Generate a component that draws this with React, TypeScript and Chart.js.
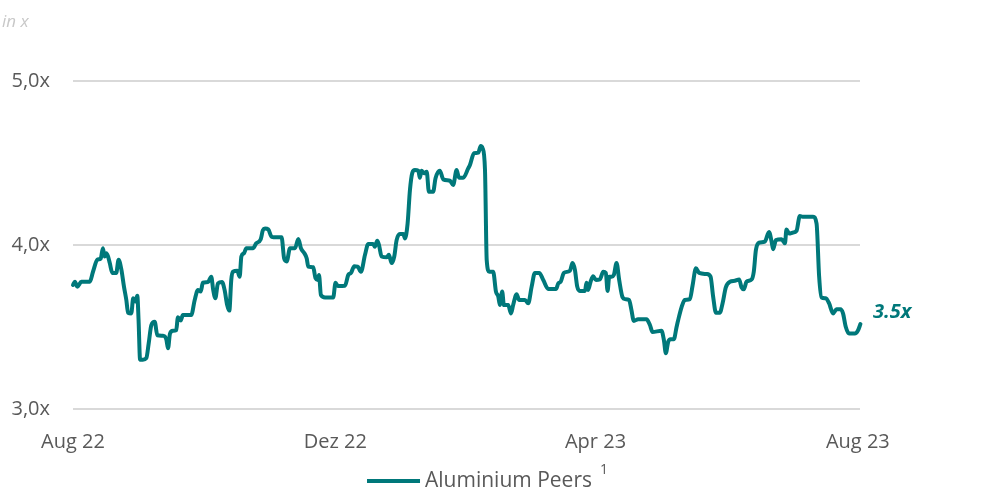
import React, { useEffect, useRef } from 'react';
import { Chart, registerables } from 'chart.js';

Chart.register(...registerables);

// Days since 1 Aug 2022
const dayOffsets = [
  0.0, 0.9, 2.0, 3.9, 7.8, 9.3, 11.3, 12.9, 13.9, 14.7, 15.5, 16.3, 17.1, 18.3, 20.1, 21.2, 22.5, 23.7, 24.8, 25.6,
  27.1, 28.0, 29.0, 29.9, 30.5, 31.2, 32.5, 34.1, 35.2, 36.4, 38.0, 39.2, 41.8, 43.4, 44.2, 45.1, 46.5, 48.0, 48.8, 50.1,
  51.1, 55.0, 56.6, 58.1, 59.4, 60.4, 62.8, 64.3, 65.2, 66.2, 67.4, 69.3, 70.5, 71.7, 72.7, 73.6, 74.4, 76.4, 77.5, 78.3,
  79.5, 80.6, 83.7, 85.2, 87.3, 88.3, 89.3, 90.8, 92.4, 94.7, 97.0, 98.2, 99.4, 100.9, 103.2, 104.8, 106.0, 107.6, 108.7, 109.4,
  111.7, 112.8, 113.8, 114.4, 115.3, 117.2, 121.0, 122.1, 123.1, 126.5, 128.0, 129.3, 130.8, 132.4, 133.9, 135.8, 137.3, 139.6, 140.4, 141.5,
  142.3, 143.5, 145.9, 146.9, 148.2, 149.4, 150.5, 152.0, 153.6, 154.4, 155.6, 156.7, 157.8, 159.0, 160.6, 161.3, 162.1, 163.3, 164.5, 165.5,
  167.5, 168.6, 170.6, 172.2, 175.3, 176.8, 178.4, 179.5, 181.5, 183.8, 184.6, 186.5, 188.5, 189.6, 190.5, 191.6, 192.4, 193.6, 195.4, 196.7,
  197.8, 198.5, 199.6, 200.4, 202.4, 203.7, 204.7, 206.3, 207.5, 210.2, 211.7, 213.3, 214.8, 216.8, 218.7, 221.0, 224.6, 225.7, 226.8, 228.3,
  231.1, 232.3, 233.4, 234.5, 235.7, 238.1, 238.8, 239.6, 240.7, 241.9, 243.2, 245.0, 246.6, 247.8, 248.6, 249.4, 250.5, 251.5, 252.8, 254.0,
  255.6, 256.7, 258.6, 259.7, 260.8, 262.8, 266.7, 268.3, 269.5, 273.7, 274.8, 275.7, 276.8, 277.9, 279.4, 280.7, 281.4, 283.0, 284.5, 286.9,
  288.1, 289.7, 291.2, 294.7, 296.5, 297.7, 299.0, 300.8, 302.1, 303.6, 305.5, 307.8, 309.8, 310.9, 312.0, 313.2, 315.6, 316.6, 317.6, 319.1,
  321.7, 323.7, 324.9, 325.6, 326.9, 329.5, 331.1, 331.8, 333.1, 334.6, 336.5, 338.0, 339.3, 344.2, 345.8, 347.0, 348.1, 350.1, 351.6, 353.5,
  355.1, 356.9, 358.1, 359.4, 360.9, 363.6, 365.1, 366.2,
];

// EV/EBITDA multiple (x)
const multiples = [
  3.756, 3.776, 3.746, 3.776, 3.776, 3.837, 3.91, 3.918, 3.98, 3.93, 3.95, 3.93, 3.89, 3.83, 3.83, 3.91, 3.85, 3.746, 3.665, 3.587,
  3.583, 3.675, 3.655, 3.69, 3.54, 3.30, 3.30, 3.31, 3.40, 3.51, 3.532, 3.45, 3.447, 3.425, 3.37, 3.46, 3.477, 3.48, 3.56, 3.54,
  3.573, 3.573, 3.665, 3.726, 3.716, 3.77, 3.774, 3.807, 3.726, 3.675, 3.766, 3.774, 3.726, 3.634, 3.60, 3.787, 3.837, 3.843, 3.807, 3.93,
  3.95, 3.98, 3.98, 4.01, 4.035, 4.09, 4.10, 4.095, 4.05, 4.047, 4.047, 3.918, 3.90, 3.98, 3.98, 4.037, 3.98, 3.95, 3.918, 3.868,
  3.864, 3.797, 3.787, 3.817, 3.695, 3.68, 3.68, 3.77, 3.75, 3.752, 3.817, 3.83, 3.87, 3.868, 3.837, 3.94, 4.006, 4.006, 3.99, 4.026,
  4.0, 3.93, 3.925, 3.94, 3.89, 3.93, 4.03, 4.067, 4.067, 4.04, 4.13, 4.335, 4.44, 4.457, 4.453, 4.41, 4.453, 4.437, 4.447, 4.325,
  4.325, 4.407, 4.453, 4.40, 4.392, 4.366, 4.457, 4.41, 4.41, 4.467, 4.488, 4.56, 4.563, 4.604, 4.59, 4.457, 3.908, 3.837, 3.837, 3.716,
  3.685, 3.634, 3.716, 3.634, 3.634, 3.583, 3.634, 3.70, 3.665, 3.665, 3.645, 3.746, 3.83, 3.83, 3.787, 3.732, 3.732, 3.766, 3.776, 3.83,
  3.843, 3.89, 3.85, 3.746, 3.72, 3.72, 3.77, 3.726, 3.776, 3.81, 3.787, 3.79, 3.837, 3.83, 3.72, 3.807, 3.807, 3.817, 3.89, 3.787,
  3.68, 3.67, 3.665, 3.604, 3.537, 3.547, 3.547, 3.512, 3.47, 3.477, 3.42, 3.34, 3.41, 3.425, 3.425, 3.50, 3.54, 3.62, 3.665, 3.67,
  3.75, 3.858, 3.83, 3.823, 3.807, 3.685, 3.587, 3.587, 3.645, 3.742, 3.776, 3.782, 3.79, 3.742, 3.73, 3.776, 3.79, 3.837, 3.97, 4.014,
  4.02, 4.08, 4.02, 3.974, 4.03, 4.035, 4.01, 4.095, 4.07, 4.075, 4.087, 4.177, 4.173, 4.173, 4.13, 3.807, 3.68, 3.675, 3.645, 3.583,
  3.608, 3.608, 3.583, 3.50, 3.46, 3.46, 3.48, 3.518,
];

const tickDays = [0, 122, 243, 365];
const tickLabels = ['Aug 22', 'Dez 22', 'Apr 23', 'Aug 23'];
const yTickValues = [3, 4, 5];
const seriesName = 'Aluminium Peers';
const footnoteMark = '1';
const unitLabel = 'in x';
const lastValueLabel = '3.5x';
const lastValue = 3.5;

const TEAL = '#00787a';
const FONT = '"Open Sans", sans-serif';

const overlayPlugin = {
  id: 'overlay',
  afterDraw(chart: any) {
    const { ctx, chartArea, scales } = chart;
    ctx.save();
    // unit label
    ctx.font = `italic 17px ${FONT}`;
    ctx.fillStyle = '#c8c8c8';
    ctx.textAlign = 'left';
    ctx.textBaseline = 'middle';
    ctx.fillText(unitLabel, 2, 22);

    // end label
    ctx.font = `italic bold 20px ${FONT}`;
    ctx.fillStyle = TEAL;
    ctx.fillText(lastValueLabel, chartArea.right + 13, scales.y.getPixelForValue(lastValue) - 15);

    // legend
    const cx = (chartArea.left + chartArea.right) / 2;
    const ly = 481;
    ctx.font = `21px ${FONT}`;
    const tw = ctx.measureText(seriesName).width;
    const lineW = 53;
    const gap = 5;
    const supGap = 8;
    ctx.font = `14px ${FONT}`;
    const sw = ctx.measureText(footnoteMark).width;
    const total = lineW + gap + tw + supGap + sw;
    const x0 = cx + 21 - total / 2;
    ctx.strokeStyle = TEAL;
    ctx.lineWidth = 4;
    ctx.beginPath();
    ctx.moveTo(x0, ly);
    ctx.lineTo(x0 + lineW, ly);
    ctx.stroke();
    ctx.font = `21px ${FONT}`;
    ctx.fillStyle = '#595959';
    ctx.textBaseline = 'middle';
    ctx.fillText(seriesName, x0 + lineW + gap, ly);
    ctx.font = `14px ${FONT}`;
    ctx.fillText(footnoteMark, x0 + lineW + gap + tw + supGap, ly - 11);
    ctx.restore();
  },
};

export default function App() {
  const canvasRef = useRef<HTMLCanvasElement | null>(null);

  useEffect(() => {
    if (!canvasRef.current) return;
    const chart = new Chart(canvasRef.current, {
      type: 'line',
      data: {
        datasets: [
          {
            label: seriesName,
            data: dayOffsets.map((d, i) => ({ x: d, y: multiples[i] })),
            borderColor: TEAL,
            backgroundColor: TEAL,
            borderWidth: 4,
            pointRadius: 0,
            cubicInterpolationMode: 'monotone',
            borderJoinStyle: 'round',
            borderCapStyle: 'round',
            clip: false as any,
          },
        ],
      },
      options: {
        animation: false,
        responsive: true,
        maintainAspectRatio: false,
        layout: { padding: { top: 81, right: 138, bottom: 0, left: 0 } },
        plugins: { legend: { display: false }, tooltip: { enabled: false } },
        scales: {
          x: {
            type: 'linear',
            min: 0,
            max: 366,
            border: { display: false },
            grid: { display: false, drawTicks: false },
            afterBuildTicks: (scale: any) => {
              scale.ticks = tickDays.map((v) => ({ value: v }));
            },
            afterFit: (scale: any) => {
              scale.height = 81;
            },
            ticks: {
              padding: 21,
              maxRotation: 0,
              autoSkip: false,
              color: '#595959',
              font: { family: FONT, size: 20 },
              callback: (v: any) => tickLabels[tickDays.indexOf(Number(v))] ?? '',
            },
          },
          y: {
            min: 3,
            max: 5,
            border: { display: false },
            grid: { color: '#d9d9d9', lineWidth: 2, drawTicks: false },
            afterBuildTicks: (scale: any) => {
              scale.ticks = yTickValues.map((v) => ({ value: v }));
            },
            afterFit: (scale: any) => {
              scale.width = 73;
            },
            ticks: {
              padding: 23,
              color: '#595959',
              font: { family: FONT, size: 20 },
              callback: (v: any) => Number(v).toFixed(1).replace('.', ',') + 'x',
            },
          },
        },
      },
      plugins: [overlayPlugin],
    });
    return () => chart.destroy();
  }, []);

  return (
    <div style={{ position: 'fixed', left: 0, top: 0, width: 998, height: 490, background: '#fff' }}>
      <canvas ref={canvasRef} />
    </div>
  );
}
